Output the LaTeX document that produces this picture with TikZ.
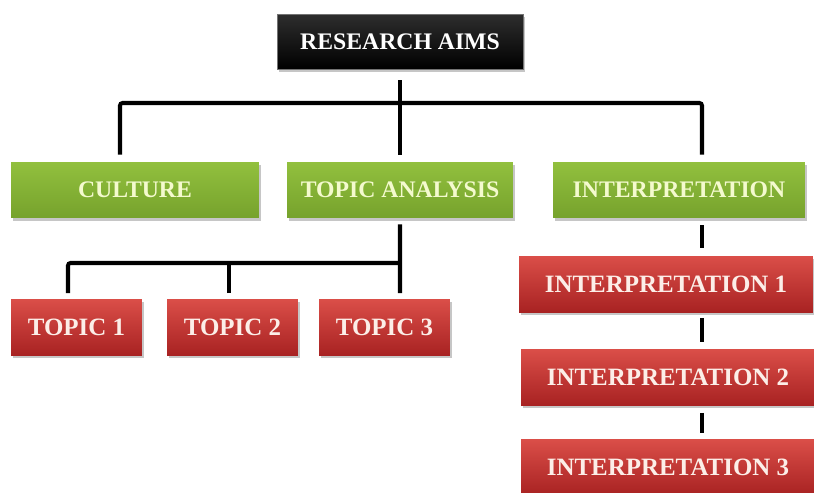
\documentclass[tikz,border=0pt]{standalone}
\usepackage{fontspec}
\setmainfont{Liberation Serif}
\usepackage{tikz}
\usetikzlibrary{shadows}
\usepackage{xcolor}
\definecolor{greentop}{RGB}{146,192,62}
\definecolor{greenbot}{RGB}{118,162,44}
\definecolor{redtop}{RGB}{218,78,72}
\definecolor{redbot}{RGB}{168,34,34}
\definecolor{cream}{RGB}{244,250,206}
\definecolor{pinkwhite}{RGB}{252,238,232}

\begin{document}
\begin{tikzpicture}[x=0.02cm, y=-0.02cm,
  box/.style={rectangle, inner sep=0pt, font=\bfseries,
    drop shadow={opacity=0.45, shadow xshift=1.2pt, shadow yshift=-1.6pt}},
  aimbox/.style={box, top color=black!82, bottom color=black, draw=black!55,
    text=white, font=\fontsize{13.5}{15}\selectfont\bfseries,
    minimum width=4.92cm, minimum height=1.1cm},
  themebox/.style={box, top color=greentop, bottom color=greenbot,
    text=cream, font=\fontsize{13.5}{15}\selectfont\bfseries,
    minimum height=1.12cm},
  subbox/.style={box, top color=redtop, bottom color=redbot,
    text=pinkwhite, font=\fontsize{14.2}{16}\selectfont\bfseries,
    minimum height=1.12cm},
  link/.style={line width=2.3pt, rounded corners=1.5pt}]
  \def\px{0.02cm}
  \useasboundingbox (0,0) rectangle (814,493);

  % top
  \node[aimbox] (aims) at (400,41.5) {RESEARCH AIMS};

  % themes
  \node[themebox, minimum width=4.96cm] (culture) at (135,190) {CULTURE};
  \node[themebox, minimum width=4.52cm] (analysis) at (400,190) {TOPIC ANALYSIS};
  \node[themebox, minimum width=5.04cm] (interp) at (679,190) {INTERPRETATION};

  % topics
  \foreach \n/\x in {1/76.5, 2/232.5, 3/384.5} {
    \node[subbox, minimum width=2.62cm] (topic\n) at (\x,327.5) {TOPIC \n};
  }

  % interpretations
  \node[subbox, minimum width=5.88cm] (int1) at (666,284.5) {INTERPRETATION 1};
  \node[subbox, minimum width=5.88cm] (int2) at (668,377.5) {INTERPRETATION 2};
  \node[subbox, minimum width=5.88cm] (int3) at (668,467.5) {INTERPRETATION 3};

  % bar under the aims
  \coordinate (bar) at (400,103);
  \draw[link, shorten <=11*\px, shorten >=7*\px] (aims.south) -- (analysis.north);
  \draw[link, shorten <=7*\px, shorten >=7*\px]
    ([xshift=-15*\px]culture.north) |- (bar) -| ([xshift=23*\px]interp.north);

  % bar under topic analysis
  \coordinate (tbar) at (400,263);
  \draw[link, shorten <=6*\px, shorten >=6*\px]
    (analysis.south) -- ([xshift=15.5*\px]topic3.north);
  \draw[link, shorten <=6*\px] ([xshift=-8.5*\px]topic1.north) |- (tbar);
  \draw[link, shorten <=6*\px]
    ([xshift=-3.5*\px]topic2.north) -- ([xshift=-3.5*\px]topic2.north |- tbar);

  % interpretation chain
  \coordinate (icol) at (702,0);
  \draw[link, shorten <=7*\px, shorten >=8*\px] (interp.south -| icol) -- (int1.north -| icol);
  \draw[link, shorten <=5*\px, shorten >=7*\px] (int1.south -| icol) -- (int2.north -| icol);
  \draw[link, shorten <=7*\px, shorten >=6*\px] (int2.south -| icol) -- (int3.north -| icol);
\end{tikzpicture}
\end{document}
